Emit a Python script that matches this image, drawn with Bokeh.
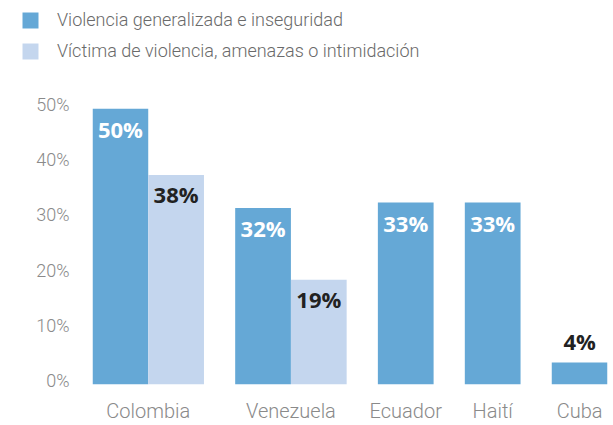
from bokeh.plotting import figure
from bokeh.layouts import column
from bokeh.models import (ColumnDataSource, Range1d, FixedTicker,
                          PrintfTickFormatter, Legend, LegendItem, LinearAxis)
from bokeh.core.properties import value
from bokeh.embed import file_html
from bokeh.resources import INLINE

# ---- data ----
countries = ["Colombia", "Venezuela", "Ecuador", "Haití", "Cuba"]
series_names = ["Violencia generalizada e inseguridad",
                "Víctima de violencia, amenazas o intimidación"]
general = [50, 32, 33, 33, 4]
victim = [38, 19, None, None, None]
y_ticks = [0, 10, 20, 30, 40, 50]

DARK = "#65a8d6"
LIGHT = "#c4d6ee"
AXIS_GREY = "#8a8a8a"
LEGEND_GREY = "#6a6a6a"
LIGHT_FONT = "Roboto Light, Roboto"
BAR_W = 1.0      # one bar slot
GROUP_GAP = 0.56  # gap between country groups, in bar slots

# ---- layout of bar slots along x (derived from data order) ----
x1, x2, top2, centers = [], [], [], []
pos = 0.0
for c, g, v in zip(countries, general, victim):
    n = 1 if v is None else 2
    x1.append(pos + BAR_W / 2)
    if v is not None:
        x2.append(pos + BAR_W * 1.5)
        top2.append(v)
    centers.append(pos + n * BAR_W / 2)
    pos += n * BAR_W + GROUP_GAP
x_end = pos - GROUP_GAP

src1 = ColumnDataSource(dict(x=x1, top=general))
src2 = ColumnDataSource(dict(x=x2, top=top2))

Y_END = 55.5
p = figure(width=613, height=347, output_backend="svg", toolbar_location=None,
           x_range=Range1d(0, x_end), y_range=Range1d(0, Y_END),
           min_border_left=92, min_border_right=6, min_border_top=0,
           min_border_bottom=36, y_axis_location=None, x_axis_location=None)
p.outline_line_color = None
p.xgrid.visible = False
p.ygrid.visible = False

p.vbar(x="x", top="top", width=BAR_W, source=src1, color=DARK, line_color=None)
p.vbar(x="x", top="top", width=BAR_W, source=src2, color=LIGHT, line_color=None)

# y axis on a slightly shifted range so labels sit like the reference
p.extra_y_ranges = {"lab": Range1d(-0.75, Y_END - 0.75)}
yax = LinearAxis(y_range_name="lab", ticker=FixedTicker(ticks=y_ticks),
                 formatter=PrintfTickFormatter(format="%d%%"))
yax.axis_line_color = None
yax.major_tick_line_color = None
yax.minor_tick_line_color = None
yax.major_tick_out = 0
yax.major_tick_in = 0
yax.major_label_standoff = 23
yax.major_label_text_font = LIGHT_FONT
yax.major_label_text_font_size = "18px"
yax.major_label_text_color = AXIS_GREY
p.add_layout(yax, "left")

xax = LinearAxis(ticker=FixedTicker(ticks=centers),
                 major_label_overrides={cx: c for cx, c in zip(centers, countries)})
xax.axis_line_color = None
xax.major_tick_line_color = None
xax.minor_tick_line_color = None
xax.major_tick_out = 0
xax.major_tick_in = 0
xax.major_label_standoff = 14
xax.major_label_text_font = LIGHT_FONT
xax.major_label_text_font_size = "20px"
xax.major_label_text_color = AXIS_GREY
p.add_layout(xax, "below")

# value labels
lx, ly, lt, lc, lo = [], [], [], [], []
for x, g in zip(x1, general):
    inside = g >= 10
    lx.append(x); ly.append(g); lt.append(f"{g}%")
    lc.append("white" if inside else "#222222")
    lo.append(20 if inside else -21)
for x, v in zip(x2, top2):
    lx.append(x); ly.append(v); lt.append(f"{v}%")
    lc.append("#222222"); lo.append(19)
lsrc = ColumnDataSource(dict(x=lx, y=ly, t=lt, c=lc, o=lo))
p.text(x="x", y="y", text="t", source=lsrc, text_color="c", y_offset="o",
       text_align="center", text_baseline="middle",
       text_font=value("Open Sans"), text_font_style="bold",
       text_font_size="22px")

# ---- legend in its own strip above the chart ----
lg = figure(width=613, height=78, output_backend="svg", toolbar_location=None,
            x_range=Range1d(0, 1), y_range=Range1d(0, 1),
            min_border_left=0, min_border_right=0, min_border_top=0,
            min_border_bottom=0, x_axis_location=None, y_axis_location=None)
lg.frame_align = False
lg.outline_line_color = None
lg.xgrid.visible = False
lg.ygrid.visible = False
# swatch-only renderers: a zero-height bar, so only the legend swatch shows
swatch = ColumnDataSource(dict(x=[0.5], bottom=[0], top=[0]))
e1 = lg.vbar(x="x", bottom="bottom", top="top", width=0.01, source=swatch,
             color=DARK, line_color=None)
e2 = lg.vbar(x="x", bottom="bottom", top="top", width=0.01, source=swatch,
             color=LIGHT, line_color=None)
legend = Legend(items=[LegendItem(label=series_names[0], renderers=[e1]),
                       LegendItem(label=series_names[1], renderers=[e2])],
                location=(20, 17), orientation="vertical")
legend.padding = 0
legend.margin = 0
legend.spacing = 10
legend.glyph_width = 20
legend.glyph_height = 20
legend.label_standoff = 17
legend.label_height = 20
legend.label_text_font = LIGHT_FONT
legend.label_text_font_size = "18px"
legend.label_text_color = LEGEND_GREY
legend.border_line_color = None
legend.background_fill_alpha = 0
lg.add_layout(legend)

layout = column(lg, p, spacing=0)
open("out.html", "w").write(file_html(layout, INLINE))
